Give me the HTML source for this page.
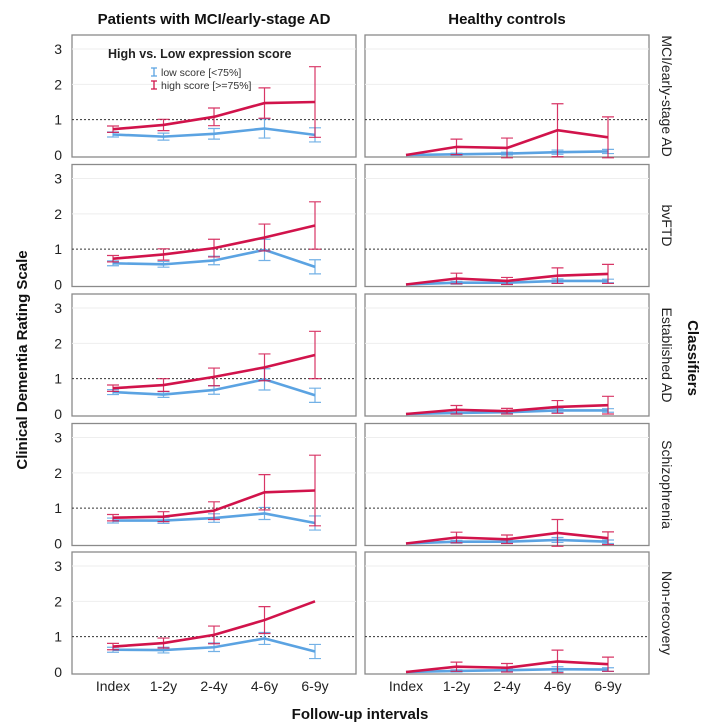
<!DOCTYPE html>
<html><head><meta charset="utf-8"><style>
body{margin:0;background:#fff;font-family:"Liberation Sans",Arial,sans-serif}
svg{display:block}
</style></head><body>
<svg id="c" width="720" height="727" xmlns="http://www.w3.org/2000/svg"></svg>
<script>
const categories=["Index","1-2y","2-4y","4-6y","6-9y"];
const rowLabels=["MCI/early-stage AD","bvFTD","Established AD","Schizophrenia","Non-recovery"];
const colTitles=["Patients with MCI/early-stage AD","Healthy controls"];
const yTicks=[0,1,2,3];
// [row][col] means
const lowMean=[
 [[.58,.52,.6,.75,.57],[0,.02,.04,.08,.1]],
 [[.6,.57,.68,.98,.5],[0,.05,.05,.1,.1]],
 [[.62,.55,.68,.98,.53],[0,.03,.05,.1,.1]],
 [[.65,.65,.72,.85,.58],[0,.05,.05,.1,.05]],
 [[.63,.62,.7,.95,.58],[0,.03,.05,.08,.07]]];
const lowErr=[
 [[.07,.1,.15,.27,.2],[0,.03,.04,.06,.06]],
 [[.07,.08,.12,.3,.2],[0,.04,.04,.06,.05]],
 [[.07,.08,.12,.3,.2],[0,.03,.04,.06,.05]],
 [[.07,.08,.12,.17,.2],[0,.04,.04,.07,.05]],
 [[.07,.08,.12,.17,.2],[0,.03,.04,.07,.05]]];
const highMean=[
 [[.73,.85,1.08,1.47,1.5],[0,.23,.2,.7,.5]],
 [[.73,.85,1.03,1.33,1.67],[0,.17,.1,.25,.3]],
 [[.73,.82,1.05,1.32,1.67],[0,.12,.08,.2,.25]],
 [[.73,.76,.93,1.45,1.5],[0,.17,.12,.3,.15]],
 [[.72,.82,1.05,1.47,2.0]],
];
highMean[4].push([0,.15,.12,.3,.22]);
const highErr=[
 [[.09,.16,.25,.43,1.0],[0,.22,.28,.75,.58]],
 [[.09,.16,.25,.38,.67],[0,.15,.1,.22,.27]],
 [[.09,.18,.25,.38,.67],[0,.12,.08,.18,.25]],
 [[.09,.14,.25,.5,1.0],[0,.15,.12,.38,.18]],
 [[.09,.14,.25,.38,0]],
];
highErr[4].push([0,.13,.12,.32,.2]);

const svg=document.getElementById('c');const NS="http://www.w3.org/2000/svg";
function mk(t,a,p){const e=document.createElementNS(NS,t);for(const k in a)e.setAttribute(k,a[k]);(p||svg).appendChild(e);return e;}
const panelX=[72,365],panelW=284,panelTop=[35,164.5,294,423.5,552],panelH=122;
function xS(c,i){return panelX[c]+41+i*50.5;}
function yS(r,v){const b=panelTop[r]+panelH-2,t=panelTop[r]+14;return b-(b-t)*v/3;}
const RED="#d1134b",BLUE="#5ba3e2";
for(let r=0;r<5;r++)for(let c=0;c<2;c++){
 const g=mk('g',{});
 
 
 mk('rect',{x:panelX[c],y:panelTop[r],width:panelW,height:panelH,fill:'#fff',stroke:'#8a8a8a','stroke-width':1.3},g);
 [2,3].forEach(v=>mk('line',{x1:panelX[c],x2:panelX[c]+panelW,y1:yS(r,v),y2:yS(r,v),stroke:'#eee'},g));
 const ref=mk('line',{x1:panelX[c],x2:panelX[c]+panelW,y1:yS(r,1),y2:yS(r,1),stroke:'#333','stroke-dasharray':'2,2','stroke-width':1},g);
 
 
 if(c===0)yTicks.forEach(v=>{const t=mk('text',{x:62,y:yS(r,v)+5,'font-size':14,fill:'#222','text-anchor':'end'},g);t.textContent=v;
  
  });
 [[lowMean,lowErr,BLUE,'low'],[highMean,highErr,RED,'high']].forEach(([M,E,col,nm])=>{
  const m=M[r][c],e=E[r][c];
  for(let i=0;i<5;i++){if(e[i]<=0)continue;const x=xS(c,i);
   const eb=mk('path',{d:`M${x},${yS(r,m[i]-e[i])}V${yS(r,m[i]+e[i])}M${x-6},${yS(r,m[i]-e[i])}h12M${x-6},${yS(r,m[i]+e[i])}h12`,stroke:col,'stroke-width':1.2,fill:'none',opacity:.85},g);
   
   }
  const ln=mk('polyline',{points:m.map((v,i)=>xS(c,i)+','+yS(r,v)).join(' '),stroke:col,'stroke-width':2.6,fill:'none'},g);
  
  
 });
 if(c===1){const t=mk('text',{transform:`translate(662,${panelTop[r]+panelH/2}) rotate(90)`,'font-size':14,fill:'#222','text-anchor':'middle'},g);t.textContent=rowLabels[r];
  
  }
}
for(let c=0;c<2;c++){
 categories.forEach((k,i)=>{const t=mk('text',{x:xS(c,i),y:691,'font-size':14,fill:'#222','text-anchor':'middle'});t.textContent=k;
  
  });
 const t=mk('text',{x:panelX[c]+panelW/2,y:24,'font-size':15,'font-weight':'bold',fill:'#111','text-anchor':'middle'});t.textContent=colTitles[c];
 
 
}
let t=mk('text',{x:360,y:719,'font-size':15,'font-weight':'bold','text-anchor':'middle',fill:'#111'});t.textContent="Follow-up intervals";


t=mk('text',{transform:'translate(27,360) rotate(-90)','font-size':15,'font-weight':'bold','text-anchor':'middle',fill:'#111'});t.textContent="Clinical Dementia Rating Scale";


t=mk('text',{transform:'translate(688,358) rotate(90)','font-size':15,'font-weight':'bold','text-anchor':'middle',fill:'#111'});t.textContent="Classifiers";


const lg=mk('g',{});


t=mk('text',{x:108,y:58,'font-size':12.5,'font-weight':'bold',fill:'#222'},lg);t.textContent="High vs. Low expression score";
[[BLUE,"low score [<75%]",73],[RED,"high score [>=75%]",86]].forEach(([col,txt,y])=>{
 mk('path',{d:`M154,${y-5}v8M151,${y-5}h6M151,${y+3}h6`,stroke:col,'stroke-width':1.3},lg);
 const tt=mk('text',{x:161,y:y+3,'font-size':10.5,fill:'#333'},lg);tt.textContent=txt;
 
 
});
</script>
</body></html>
